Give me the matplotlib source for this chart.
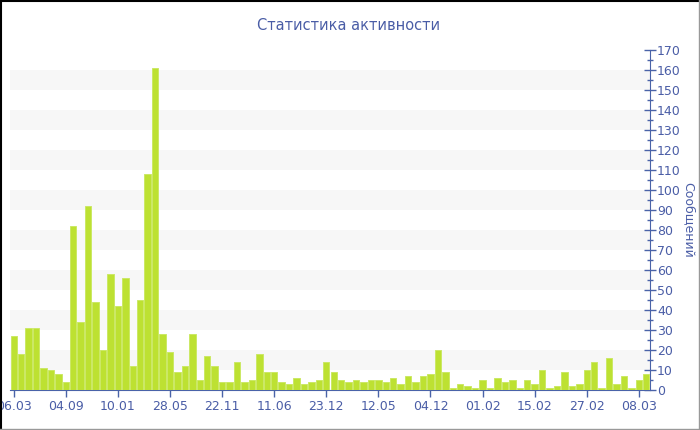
import numpy as np
import matplotlib
matplotlib.use("Agg")
import matplotlib.pyplot as plt
from matplotlib.ticker import MultipleLocator

# messages per period
values = [27, 18, 31, 31, 11, 10, 8, 4, 82, 34,
          92, 44, 20, 58, 42, 56, 12, 45, 108, 161,
          28, 19, 9, 12, 28, 5, 17, 12, 4, 4,
          14, 4, 5, 18, 9, 9, 4, 3, 6, 3,
          4, 5, 14, 9, 5, 4, 5, 4, 5, 5,
          4, 6, 3, 7, 4, 7, 8, 20, 9, 1,
          3, 2, 1, 5, 1, 6, 4, 5, 1, 5,
          3, 10, 1, 2, 9, 2, 3, 10, 14, 1,
          16, 3, 7, 1, 5, 8]
tick_labels = ["06.03", "04.09", "10.01", "28.05", "22.11", "11.06", "23.12",
               "12.05", "04.12", "01.02", "15.02", "27.02", "08.03"]
tick_step = 7

title = "Статистика активности"
ylabel = "Сообщений"

bar_color = "#bde132"
axis_color = "#4a63a8"
text_color = "#4a5da6"

fig = plt.figure(figsize=(7, 4.3), dpi=100)
ax = fig.add_axes([10/700, 40/430, 640/700, 340/430])

x = np.arange(len(values))
ax.bar(x, values, width=0.86, color=bar_color, edgecolor="#cbe865", linewidth=0.7, zorder=3)

# alternating bands
for lo in range(10, 170, 20):
    ax.axhspan(lo, lo + 10, color="#f7f7f7", zorder=0, lw=0)

ax.set_xlim(-0.5, len(values) - 0.5)
ax.set_ylim(0, 170)

ax.yaxis.tick_right()
ax.yaxis.set_label_position("right")
ax.yaxis.set_major_locator(MultipleLocator(10))
ax.yaxis.set_minor_locator(MultipleLocator(5))
ax.tick_params(axis="y", which="major", direction="inout", length=8, width=1,
               color=axis_color, labelcolor=text_color, labelsize=9, pad=1)
ax.tick_params(axis="y", which="minor", direction="inout", length=4, width=1,
               color=axis_color)

ax.set_xticks(x[::tick_step])
ax.set_xticklabels(tick_labels)
ax.tick_params(axis="x", direction="out", length=5, width=1, color=axis_color,
               labelcolor=text_color, labelsize=9, pad=2)

for s in ["top", "left"]:
    ax.spines[s].set_visible(False)
ax.spines["right"].set_color(axis_color)
ax.spines["bottom"].set_color(axis_color)

ax.set_ylabel(ylabel, color=text_color, fontsize=9, rotation=270, labelpad=10)

fig.text(349/700, 1 - 25/430, title, ha="center", va="center", color=text_color, fontsize=10.5)

# outer border
fig.add_artist(plt.Line2D([0.5/700, 0.5/700], [0, 1], color="black", lw=1.5, transform=fig.transFigure))
fig.add_artist(plt.Line2D([0, 1], [1 - 0.5/430, 1 - 0.5/430], color="black", lw=1.5, transform=fig.transFigure))
fig.add_artist(plt.Line2D([1 - 1.5/700, 1 - 1.5/700], [0, 1], color="#999999", lw=1, transform=fig.transFigure))
fig.add_artist(plt.Line2D([0, 1], [1.5/430, 1.5/430], color="#999999", lw=1, transform=fig.transFigure))

fig.savefig("out.png", dpi=100)
